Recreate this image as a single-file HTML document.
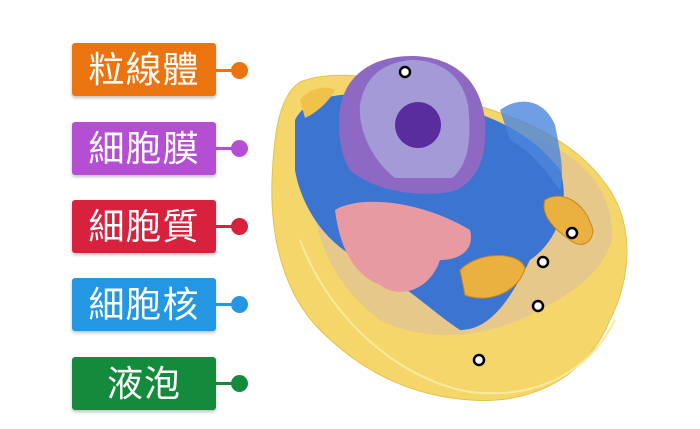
<!DOCTYPE html>
<html><head><meta charset="utf-8"><style>
html,body{margin:0;padding:0;background:#fff;width:700px;height:429px;overflow:hidden;position:relative;font-family:"Liberation Sans","Noto Sans CJK TC",sans-serif}
.lb{position:absolute;left:72px;width:144px;height:53px;border-radius:3px;color:#fff;font-size:36px;line-height:53px;text-align:center;box-shadow:0 2px 3px rgba(0,0,0,.25);letter-spacing:1px}
.ln{position:absolute;left:216px;width:20px;height:3px}
.dt{position:absolute;left:231px;width:17px;height:17px;border-radius:50%}
</style></head><body>
<div class="lb" style="top:43px;background:#ec7410">粒線體</div><div class="ln" style="top:69px;background:#ec7410"></div><div class="dt" style="top:62px;background:#ec7410"></div>
<div class="lb" style="top:122px;background:#b44fd3">細胞膜</div><div class="ln" style="top:147px;background:#b44fd3"></div><div class="dt" style="top:140px;background:#b44fd3"></div>
<div class="lb" style="top:200px;background:#d7213d">細胞質</div><div class="ln" style="top:225px;background:#d7213d"></div><div class="dt" style="top:218px;background:#d7213d"></div>
<div class="lb" style="top:278px;background:#2397e2">細胞核</div><div class="ln" style="top:303px;background:#2397e2"></div><div class="dt" style="top:296px;background:#2397e2"></div>
<div class="lb" style="top:357px;background:#138a3c">液泡</div><div class="ln" style="top:382px;background:#138a3c"></div><div class="dt" style="top:375px;background:#138a3c"></div>
<svg style="position:absolute;left:0;top:0" width="700" height="429">
<path d="M300 82 C330 70 380 75 420 90 C500 110 570 130 610 190 C635 230 630 280 610 320 C590 370 540 405 470 400 C410 396 360 370 320 330 C285 295 270 240 272 180 C274 130 280 95 300 82Z" fill="#f4d66a" stroke="#e6c04e"/>
<path d="M320 110 C380 100 470 120 540 140 C590 160 615 200 612 240 C600 280 560 300 520 320 C470 340 420 340 380 320 C340 290 318 250 312 200 C308 160 310 125 320 110Z" fill="#e6c98a"/>
<path d="M295 120 C310 90 360 90 420 100 C480 108 530 130 560 170 C570 200 560 240 530 260 C510 300 490 330 460 330 C430 310 400 280 360 260 C320 240 300 200 295 170Z" fill="#3c74d2"/>
<path d="M300 100 C310 88 325 85 335 90 C330 100 318 112 305 118Z" fill="#f0c24a"/>
<path d="M500 110 C520 95 545 100 555 125 C560 150 565 175 560 190 C545 170 530 150 510 140Z" fill="#4b86dd" opacity=".8"/>
<path d="M340 110 C345 70 380 55 415 56 C455 58 480 80 485 120 C488 160 475 185 450 192 C410 198 370 188 350 170 C340 155 338 130 340 110Z" fill="#8e69c4"/>
<path d="M360 105 C365 75 385 62 412 60 C440 60 462 75 468 105 C472 140 468 165 452 178 L395 178 C372 160 358 130 360 105Z" fill="#a59ad8"/>
<circle cx="418" cy="125" r="23" fill="#5a2d9e"/>
<path d="M335 210 C360 195 420 200 470 230 C475 250 460 260 440 260 C430 290 400 300 380 285 C355 275 340 250 335 210Z" fill="#e79aa2"/>
<path d="M460 270 C480 250 520 252 525 268 C520 290 490 305 465 295Z" fill="#eab040" stroke="#c7861e"/>
<path d="M545 200 C560 190 585 200 593 230 C592 245 580 248 570 240 C555 230 540 215 545 200Z" fill="#eab040" stroke="#c7861e"/>
<path d="M300 240 C330 320 400 380 470 392 C540 400 590 370 615 320" fill="none" stroke="#fbe9a0" stroke-width="2"/>
<g fill="#fff" stroke="#000" stroke-width="2.5">
<circle cx="405" cy="72" r="5"/><circle cx="572" cy="233" r="5"/><circle cx="543" cy="262" r="5"/><circle cx="538" cy="306" r="5"/><circle cx="479" cy="360" r="5"/>
</g></svg>
</body></html>
